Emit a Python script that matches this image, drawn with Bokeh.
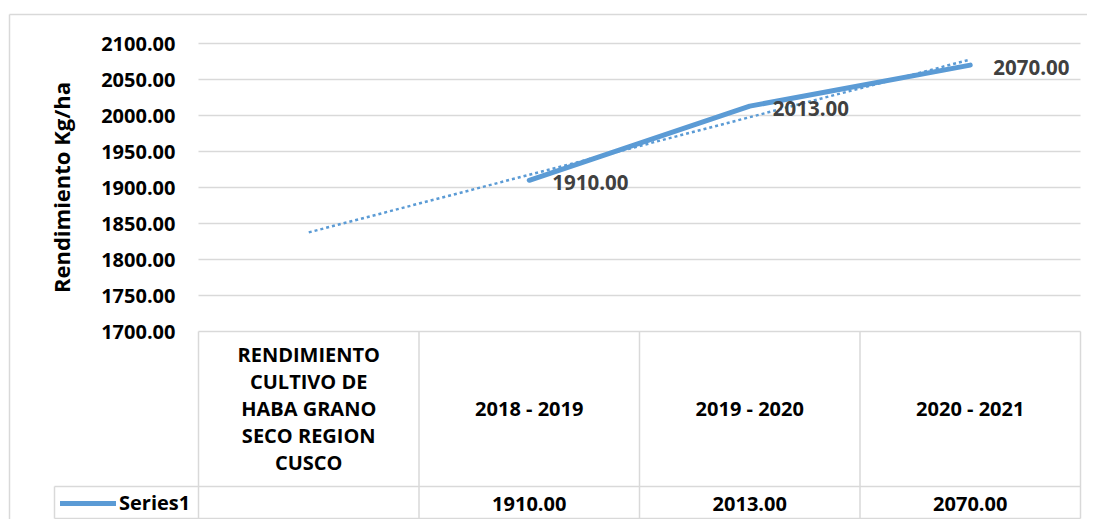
import textwrap
import numpy as np
from bokeh.plotting import figure
from bokeh.models import (Range1d, LinearAxis, FixedTicker, NumeralTickFormatter,
                          Legend, LegendItem)
from bokeh.core.properties import value
from bokeh.embed import file_html
from bokeh.resources import INLINE

# ---------------- data ----------------
categories = ["RENDIMIENTO CULTIVO DE HABA GRANO SECO REGION CUSCO",
              "2018 - 2019", "2019 - 2020", "2020 - 2021"]
yields = [float("nan"), 1910.0, 2013.0, 2070.0]
series_name = "Series1"
y_ticks = [1700, 1750, 1800, 1850, 1900, 1950, 2000, 2050, 2100]
y_title = "Rendimiento Kg/ha"

# ---------------- layout (page pixels) ----------------
W, H = 1087, 519
PAGE = 0
PLOT_L, PLOT_R = 198, 1080
PLOT_T, PLOT_B = 43, 331
HEADER_MID = 408
ROW_TOP, ROW_BOT = 486, 518
ROW_MID = 503
LEG_L = 54
BORDER_X, BORDER_Y = 9, 14

FONT = "Open Sans"
BLUE = "#5B9BD5"
GRID = "#d9d9d9"

n = len(categories)
SX = (PLOT_R - PLOT_L) / n
SY = (PLOT_B - PLOT_T) / (y_ticks[-1] - y_ticks[0])


def xd(px):
    return 0.5 + (px - PLOT_L) / SX


def yd(py):
    return y_ticks[0] - (py - PLOT_B) / SY


xs = np.arange(1, n + 1)
ys = np.array(yields, dtype=float)

p = figure(width=W, height=H,
           x_range=Range1d(xd(PAGE), xd(PAGE + W)),
           y_range=Range1d(yd(PAGE + H), yd(PAGE)),
           output_backend="svg", toolbar_location=None,
           x_axis_type=None, y_axis_type=None, min_border=0)
p.outline_line_color = None
p.background_fill_color = "white"
p.border_fill_color = "white"

# y axis placed at the left edge of the plot area
yaxis = LinearAxis(fixed_location=0.5, bounds=(y_ticks[0], y_ticks[-1]),
                   ticker=FixedTicker(ticks=y_ticks),
                   formatter=NumeralTickFormatter(format="0.00"),
                   axis_label=y_title)
yaxis.axis_line_color = None
yaxis.major_tick_line_color = None
yaxis.minor_tick_line_color = None
yaxis.major_tick_out = 0
yaxis.major_tick_in = 0
yaxis.major_label_standoff = 23
yaxis.major_label_text_font = FONT
yaxis.major_label_text_font_style = "bold"
yaxis.major_label_text_font_size = "20px"
yaxis.major_label_text_color = "#000000"
yaxis.axis_label_standoff = 22
yaxis.axis_label_text_font = FONT
yaxis.axis_label_text_font_style = "bold"
yaxis.axis_label_text_font_size = "22px"
yaxis.axis_label_text_color = "#000000"
p.add_layout(yaxis, "left")

# horizontal gridlines across the plot area
p.segment(x0=0.5, x1=n + 0.5, y0=y_ticks, y1=y_ticks,
          line_color=GRID, line_width=1.5)

# outer chart border (left and top)
p.segment(x0=[xd(BORDER_X), xd(BORDER_X)], y0=[yd(BORDER_Y), yd(BORDER_Y)],
          x1=[xd(BORDER_X), xd(PAGE + W + 20)], y1=[yd(PAGE + H + 20), yd(BORDER_Y)],
          line_color=GRID, line_width=1.5)

# data table grid
bounds = np.arange(0.5, n + 1.0, 1.0)
p.segment(x0=bounds, x1=bounds, y0=[yd(PLOT_B)] * len(bounds), y1=[yd(ROW_BOT)] * len(bounds),
          line_color=GRID, line_width=1.5)
p.segment(x0=[xd(LEG_L), xd(LEG_L), xd(LEG_L)],
          x1=[n + 0.5, n + 0.5, xd(LEG_L)],
          y0=[yd(ROW_TOP), yd(ROW_BOT), yd(ROW_TOP)],
          y1=[yd(ROW_TOP), yd(ROW_BOT), yd(ROW_BOT)],
          line_color=GRID, line_width=1.5)

# linear trendline fitted on the available values
valid = ~np.isnan(ys)
coef = np.polyfit(xs[valid], ys[valid], 1)
tx = np.array([xs[0], xs[-1]])
p.line(tx, np.polyval(coef, tx), line_color=BLUE, line_width=2.5,
       line_dash="3 3", line_cap="butt")

# data series
r = p.line(xs, ys, line_color=BLUE, line_width=5, line_cap="round", line_join="round")

# data labels
vx = xs[valid]
vy = ys[valid]
labels = [f"{v:.2f}" for v in vy]
p.text(x=vx, y=vy, text=labels, x_offset=23, y_offset=2,
       text_align="left", text_baseline="middle",
       text_font=value(FONT), text_font_style="bold", text_font_size="20.5px",
       text_color="#404040")

# table header (category names)
wrapped = ["\n".join(textwrap.wrap(c, 12)) for c in categories]
p.text(x=xs, y=[yd(HEADER_MID)] * n, text=wrapped,
       text_align="center", text_baseline="middle", text_line_height=1.0,
       text_font=value(FONT), text_font_style="bold", text_font_size="20px",
       text_color="#000000")

# table value row
p.text(x=vx, y=[yd(ROW_MID)] * len(vx), text=labels,
       text_align="center", text_baseline="middle",
       text_font=value(FONT), text_font_style="bold", text_font_size="20px",
       text_color="#000000")

# legend key in the table
legend = Legend(items=[LegendItem(label=series_name, renderers=[r])],
                location=(60, 3), glyph_width=56, glyph_height=20,
                label_standoff=3, padding=0, margin=0, spacing=0,
                border_line_color=None, background_fill_alpha=0)
legend.label_text_font = FONT
legend.label_text_font_style = "bold"
legend.label_text_font_size = "20px"
legend.label_text_color = "#000000"
p.add_layout(legend)

open("out.html", "w").write(file_html(p, INLINE))
